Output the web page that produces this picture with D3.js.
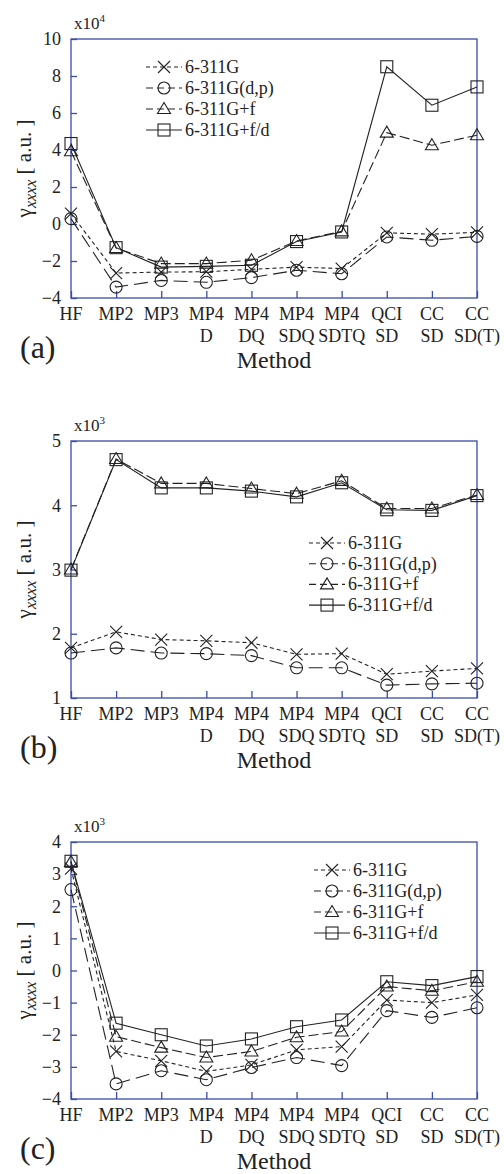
<!DOCTYPE html>
<html>
<head>
<meta charset="utf-8">
<script src="https://cdn.jsdelivr.net/npm/d3@7"></script>
<style>
  html, body { margin: 0; padding: 0; background: #fff; }
  svg { display: block; }
  svg text { font-family: "Liberation Serif", "Times New Roman", Times, serif !important; fill: #222; }
</style>
</head>
<body>
<svg id="fig" width="504" height="1174"></svg>
<script>
// Computational methods along the x axis (two-line labels)
const methods = ["HF", "MP2", "MP3", "MP4 D", "MP4 DQ", "MP4 SDQ", "MP4 SDTQ", "QCI SD", "CC SD", "CC SD(T)"];
const basisSets = ["6-311G", "6-311G(d,p)", "6-311G+f", "6-311G+f/d"];

// (a) gamma_xxxx, units of 10^4 a.u.
const a_6311G   = [0.56, -2.65, -2.60, -2.58, -2.45, -2.33, -2.41, -0.48, -0.55, -0.45];
const a_6311Gdp = [0.29, -3.41, -3.05, -3.15, -2.90, -2.50, -2.69, -0.70, -0.88, -0.67];
const a_6311Gf  = [3.93, -1.30, -2.14, -2.14, -1.96, -0.92, -0.40, 4.94, 4.26, 4.80];
const a_6311Gfd = [4.35, -1.28, -2.33, -2.29, -2.23, -0.95, -0.43, 8.50, 6.42, 7.41];
const a_ticks = [-4, -2, 0, 2, 4, 6, 8, 10];

// (b) gamma_xxxx, units of 10^3 a.u.
const b_6311G   = [1.78, 2.03, 1.91, 1.89, 1.86, 1.68, 1.69, 1.37, 1.42, 1.46];
const b_6311Gdp = [1.70, 1.78, 1.70, 1.69, 1.66, 1.47, 1.47, 1.20, 1.22, 1.23];
const b_6311Gf  = [3.00, 4.72, 4.34, 4.34, 4.26, 4.18, 4.38, 3.95, 3.95, 4.16];
const b_6311Gfd = [2.99, 4.71, 4.27, 4.27, 4.22, 4.13, 4.35, 3.93, 3.92, 4.15];
const b_ticks = [1, 2, 3, 4, 5];

// (c) gamma_xxxx, units of 10^3 a.u.
const c_6311G   = [3.17, -2.52, -2.81, -3.14, -2.94, -2.47, -2.37, -0.92, -1.00, -0.76];
const c_6311Gdp = [2.52, -3.53, -3.12, -3.40, -3.02, -2.71, -2.96, -1.25, -1.46, -1.16];
const c_6311Gf  = [3.38, -2.06, -2.40, -2.71, -2.52, -2.08, -1.90, -0.50, -0.63, -0.35];
const c_6311Gfd = [3.40, -1.64, -2.00, -2.35, -2.13, -1.75, -1.54, -0.35, -0.47, -0.19];
const c_ticks = [-4, -3, -2, -1, 0, 1, 2, 3, 4];

const ink = "#222";
const frameColor = "#3a4ca6";
const serif = '"Liberation Serif", "Times New Roman", Times, serif';
const dashes = ["4,3", "14,6", "10,4", null];
const shapes = ["cross", "circle", "triangle", "square"];

const svg = d3.select("#fig");

function marker(g, shape, x, y) {
  const s = 6;
  if (shape === "cross") {
    g.append("path").attr("d", `M${x - s},${y - s}L${x + s},${y + s}M${x - s},${y + s}L${x + s},${y - s}`)
      .attr("stroke", ink).attr("stroke-width", 1.1).attr("fill", "none");
  } else if (shape === "circle") {
    g.append("circle").attr("cx", x).attr("cy", y).attr("r", 6)
      .attr("stroke", ink).attr("stroke-width", 1.1).attr("fill", "none");
  } else if (shape === "triangle") {
    g.append("path").attr("d", `M${x},${y - 6.5}L${x + 6.5},${y + 4.5}L${x - 6.5},${y + 4.5}Z`)
      .attr("stroke", ink).attr("stroke-width", 1.1).attr("fill", "none");
  } else {
    g.append("rect").attr("x", x - 6).attr("y", y - 6).attr("width", 12).attr("height", 12)
      .attr("stroke", ink).attr("stroke-width", 1.1).attr("fill", "none");
  }
}

function panel(opt) {
  const g = svg.append("g").attr("font-family", serif);
  const x = d3.scalePoint().domain(methods).range([71, 477]).padding(0);
  const y = d3.scaleLinear().domain(opt.domain).range([opt.bottom, opt.top]);

  // frame
  g.append("rect").attr("x", 71).attr("y", opt.top).attr("width", 406).attr("height", opt.bottom - opt.top)
    .attr("fill", "none").attr("stroke", frameColor).attr("stroke-width", 1.3);

  // y axis: inward ticks
  const yAxis = d3.axisLeft(y).tickValues(opt.ticks).tickSize(-6).tickPadding(10).tickFormat(d3.format("d"));
  const ya = g.append("g").attr("transform", "translate(71,0)").call(yAxis)
    .attr("font-family", serif).attr("font-size", 18);
  ya.select(".domain").remove();
  ya.selectAll(".tick line").attr("stroke", frameColor).attr("stroke-width", 1.3);
  ya.selectAll(".tick text").attr("fill", ink);

  // x axis: inward ticks, two-line labels
  const xAxis = d3.axisBottom(x).tickSize(-7).tickFormat("");
  const xa = g.append("g").attr("transform", `translate(0,${opt.bottom})`).call(xAxis);
  xa.select(".domain").remove();
  xa.selectAll(".tick line").attr("stroke", frameColor).attr("stroke-width", 1.3);
  methods.forEach(m => {
    const parts = m.split(" ");
    const t = g.append("text").attr("x", x(m)).attr("y", opt.bottom + 22)
      .attr("text-anchor", "middle").attr("font-size", 18);
    parts.forEach((p, i) => {
      t.append("tspan").attr("x", x(m)).attr("dy", i === 0 ? 0 : 22).text(p);
    });
  });

  // exponent label
  const ex = g.append("text").attr("x", 74).attr("y", opt.top - 10).attr("font-size", 17);
  ex.append("tspan").text("x10");
  ex.append("tspan").attr("dy", -7).attr("font-size", 11).text(opt.exp);

  // y title
  const cy = (opt.top + opt.bottom) / 2;
  const yt = g.append("text").attr("transform", `translate(31,${cy}) rotate(-90)`)
    .attr("text-anchor", "middle").attr("font-size", 21);
  yt.append("tspan").text("γ");
  yt.append("tspan").attr("dy", 5).attr("font-size", 16).attr("font-style", "italic").text("xxxx");
  yt.append("tspan").attr("dy", -5).text(opt.gap + "[ a.u. ]");

  // x title and panel letter
  g.append("text").attr("x", 274).attr("y", opt.bottom + 70).attr("text-anchor", "middle")
    .attr("font-size", 24).text("Method");
  g.append("text").attr("x", 20).attr("y", opt.bottom + 60).attr("font-size", 32).text(opt.letter);

  // series
  const line = d3.line().x((d, i) => x(methods[i])).y(d => y(d));
  opt.series.forEach((vals, k) => {
    g.append("path").datum(vals).attr("d", line).attr("fill", "none")
      .attr("stroke", ink).attr("stroke-width", 1.1)
      .attr("stroke-dasharray", dashes[k]);
    vals.forEach((v, i) => marker(g, shapes[k], x(methods[i]), y(v)));
  });

  // legend
  basisSets.forEach((name, k) => {
    const ly = opt.legY + k * opt.legStep;
    const lx = opt.legX;
    g.append("line").attr("x1", lx - 18).attr("x2", lx + 18).attr("y1", ly).attr("y2", ly)
      .attr("stroke", ink).attr("stroke-width", 1.1).attr("stroke-dasharray", k === 0 ? "4,3" : (k === 3 ? null : "7,4"));
    marker(g, shapes[k], lx, ly);
    g.append("text").attr("x", lx + 21).attr("y", ly + 6).attr("font-size", 18).text(name);
  });
}

panel({
  top: 39, bottom: 298, domain: [-4, 10], ticks: a_ticks, exp: "4", letter: "(a)", gap: "  ",
  series: [a_6311G, a_6311Gdp, a_6311Gf, a_6311Gfd],
  legX: 164, legY: 67, legStep: 21
});
panel({
  top: 441, bottom: 698, domain: [1, 5], ticks: b_ticks, exp: "3", letter: "(b)", gap: " ",
  series: [b_6311G, b_6311Gdp, b_6311Gf, b_6311Gfd],
  legX: 327, legY: 543, legStep: 20.7
});
panel({
  top: 842, bottom: 1099, domain: [-4, 4], ticks: c_ticks, exp: "3", letter: "(c)", gap: " ",
  series: [c_6311G, c_6311Gdp, c_6311Gf, c_6311Gfd],
  legX: 332, legY: 870, legStep: 21
});
</script>
</body>
</html>
